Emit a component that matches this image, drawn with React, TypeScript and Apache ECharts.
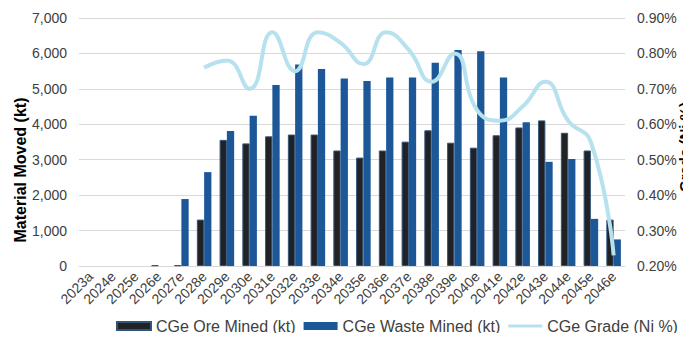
import React, { useEffect, useRef } from "react";
import * as echarts from "echarts";

const years = [
  "2023a", "2024e", "2025e", "2026e", "2027e", "2028e", "2029e", "2030e",
  "2031e", "2032e", "2033e", "2034e", "2035e", "2036e", "2037e", "2038e",
  "2039e", "2040e", "2041e", "2042e", "2043e", "2044e", "2045e", "2046e",
];

// Ore mined (kt); no mining before 2026e
const oreMined = [
  null, null, null, 20, 20, 1310, 3560, 3460, 3660, 3710, 3710, 3260, 3060,
  3260, 3510, 3830, 3480, 3340, 3690, 3910, 4110, 3760, 3260, 1310,
];

// Waste mined (kt)
const wasteMined = [
  0, 0, 0, 0, 1890, 2650, 3810, 4240, 5110, 5690, 5560, 5290, 5220, 5320,
  5320, 5740, 6100, 6060, 5320, 4060, 2940, 3020, 1330, 750,
];

// Head grade (Ni %)
const gradeNi = [
  null, null, null, null, null, 0.76, 0.78, 0.7, 0.86, 0.75, 0.86, 0.83,
  0.77, 0.86, 0.81, 0.72, 0.8, 0.64, 0.61, 0.65, 0.72, 0.61, 0.55, 0.23,
];

const FONT = "'Liberation Sans', Arial, sans-serif";
const TEXT = "#404040";

// Thin horizontal stroke for the grade legend key; the corner moves keep the
// full 34x8 icon box so the stroke stays 3px thick after scaling.
const LINE_KEY = "path://M0,0L0,0M0,8L0,8M0,2.5L34,2.5L34,5.5L0,5.5Z";

export default function App() {
  const ref = useRef<HTMLDivElement>(null);

  useEffect(() => {
    if (!ref.current) return;
    const chart = echarts.init(ref.current, undefined, { renderer: "svg" });
    chart.setOption({
      animation: false,
      backgroundColor: "#ffffff",
      textStyle: { fontFamily: FONT },
      grid: { left: 79, right: 66, top: 18, bottom: 75 },
      legend: {
        left: 116,
        top: 318,
        width: 575,
        padding: 0,
        itemWidth: 34,
        itemHeight: 8,
        itemGap: 8,
        textStyle: { fontSize: 16, color: TEXT, fontFamily: FONT },
        data: [
          { name: "CGe Ore Mined (kt)", icon: "rect" },
          { name: "CGe Waste Mined (kt)", icon: "rect" },
          { name: "CGe Grade (Ni %)", icon: LINE_KEY },
        ],
      },
      xAxis: {
        type: "category",
        data: years,
        axisTick: { show: false },
        axisLine: { lineStyle: { color: "#d9d9d9" } },
        axisLabel: {
          rotate: 45,
          interval: 0,
          margin: 8,
          fontSize: 14,
          color: TEXT,
          fontFamily: FONT,
        },
      },
      yAxis: [
        {
          type: "value",
          min: 0,
          max: 7000,
          interval: 1000,
          axisLine: { show: false },
          axisTick: { show: false },
          splitLine: { lineStyle: { color: "#d9d9d9", width: 1 } },
          axisLabel: {
            margin: 12,
            fontSize: 14,
            color: TEXT,
            fontFamily: FONT,
            formatter: (v: number) => v.toLocaleString("en-US"),
          },
        },
        {
          type: "value",
          min: 0.2,
          max: 0.9,
          interval: 0.1,
          axisLine: { show: false },
          axisTick: { show: false },
          splitLine: { show: false },
          axisLabel: {
            margin: 12,
            fontSize: 14,
            color: TEXT,
            fontFamily: FONT,
            formatter: (v: number) => v.toFixed(2) + "%",
          },
        },
      ],
      graphic: [
        {
          type: "text",
          x: 20,
          y: 170,
          rotation: Math.PI / 2,
          style: {
            text: "Material Moved (kt)",
            font: `bold 16px ${FONT}`,
            fill: "#000000",
            align: "center",
            verticalAlign: "middle",
          },
        },
        {
          type: "text",
          x: 684,
          y: 147,
          rotation: Math.PI / 2,
          style: {
            text: "Grade (Ni %)",
            font: `bold 15px ${FONT}`,
            fill: "#000000",
            align: "center",
            verticalAlign: "middle",
          },
        },
      ],
      series: [
        {
          name: "CGe Ore Mined (kt)",
          type: "bar",
          data: oreMined,
          barGap: "0%",
          barCategoryGap: "36%",
          itemStyle: { color: "#202225", borderColor: "#34557a", borderWidth: 1 },
        },
        {
          name: "CGe Waste Mined (kt)",
          type: "bar",
          data: wasteMined,
          barGap: "0%",
          barCategoryGap: "36%",
          itemStyle: { color: "#1c5797" },
        },
        {
          name: "CGe Grade (Ni %)",
          type: "line",
          yAxisIndex: 1,
          data: gradeNi,
          smooth: 0.5,
          symbol: "none",
          connectNulls: false,
          lineStyle: { color: "#b8e1f0", width: 4 },
          itemStyle: { color: "#b8e1f0" },
        },
      ],
    });
    return () => chart.dispose();
  }, []);

  return <div ref={ref} style={{ width: 691, height: 341, margin: -8 }} />;
}
